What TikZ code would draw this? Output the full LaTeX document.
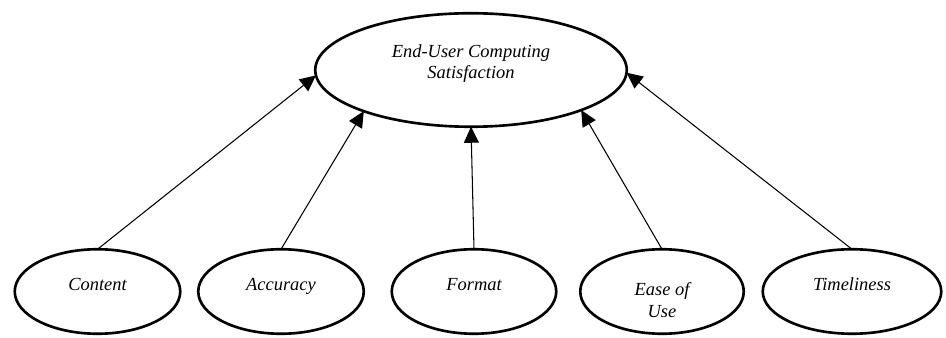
\documentclass[tikz,border=0pt]{standalone}
\usepackage{fontspec}
\setmainfont{Liberation Serif}
\usetikzlibrary{positioning,arrows.meta,shapes.geometric}
\tikzset{
  node-goal/.style={draw,ellipse,line width=1.5pt,inner sep=0pt,outer sep=0pt,
    minimum width=6.23cm,minimum height=2.27cm,align=center,
    font=\fontsize{10.5}{12}\selectfont\itshape},
  node-factor/.style={draw,ellipse,line width=1.5pt,inner sep=0pt,outer sep=0pt,
    minimum width=3.31cm,minimum height=1.69cm,align=center,
    font=\fontsize{10.5}{12.5}\selectfont\itshape},
  % Text sits a little above the middle of the one-line ellipses
  node-raised/.style={text height=0.25cm,text depth=0.27cm},
  arrow/.style={-{Triangle[length=3.2mm,width=3mm]},line width=0.6pt},
}
\begin{document}
\begin{tikzpicture}[node distance=3.6mm]
  \useasboundingbox (0,0) rectangle (18.92,6.76);
  \node[node-goal,text depth=0.32cm] (ecs) at (9.42,5.36) {End-User Computing\\Satisfaction};
  \node[node-factor,node-raised] (content) at (1.95,0.93) {Content};
  \node[node-factor,node-raised,right=3.6mm of content]  (accuracy) {Accuracy};
  \node[node-factor,node-raised,right=5.6mm of accuracy,minimum width=3.29cm] (format) {Format};
  \node[node-factor,right=4.8mm of format,minimum width=3.27cm] (ease) {\rule{0pt}{6mm}Ease of\\Use};
  \node[node-factor,node-raised,right=3.8mm of ease,minimum width=3.57cm] (timeliness) {Timeliness};
  \draw[arrow] (content.north)    -- (ecs.182);
  \draw[arrow] (accuracy.north)   -- (ecs.201.5);
  \draw[arrow] (format.north)     -- (ecs.south);
  \draw[arrow] (ease.north)       -- (ecs.340);
  \draw[arrow] (timeliness.north) -- (ecs.359);
\end{tikzpicture}
\end{document}
